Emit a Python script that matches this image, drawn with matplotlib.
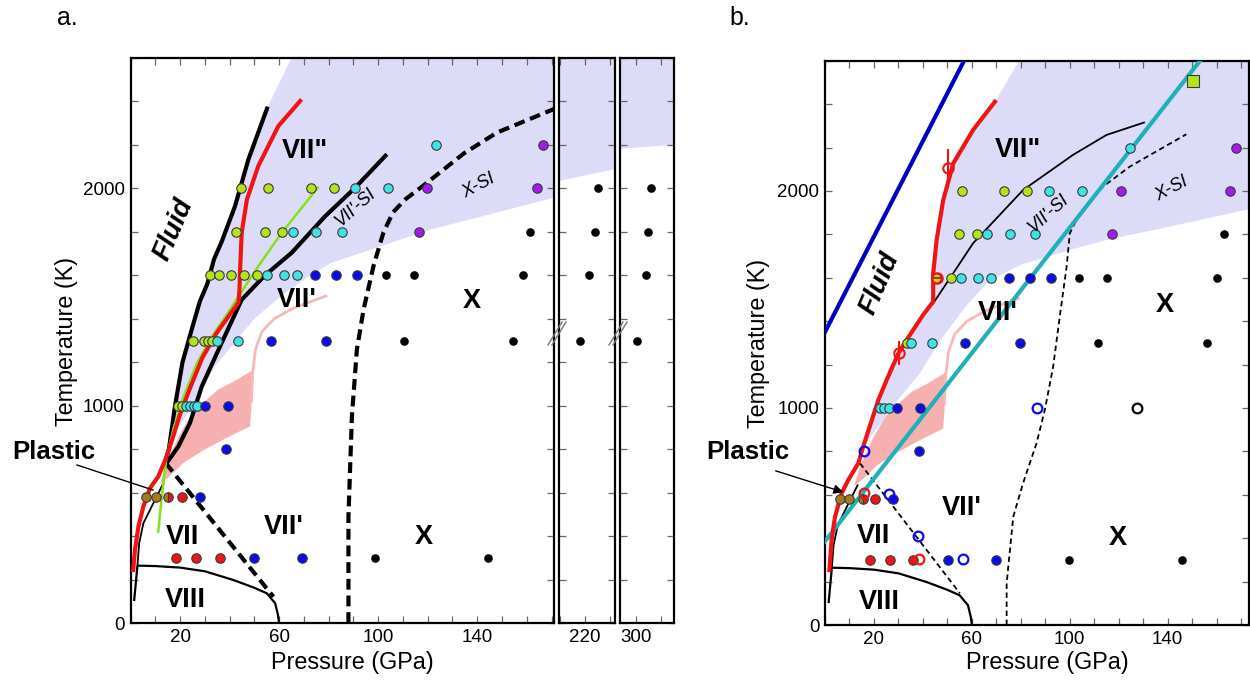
import matplotlib
matplotlib.use("Agg")
import matplotlib.pyplot as plt
from matplotlib.lines import Line2D
from matplotlib.ticker import FixedLocator, FuncFormatter
import numpy as np

plt.rcParams['font.family'] = ['Liberation Sans', 'DejaVu Sans']

# ================= DATA : panel a =================
a_green_P = [19.3, 20.8, 25.2, 29.7, 31.4, 32.8, 32.1, 35.6, 40.7, 45.9, 51.1, 42.4, 54.5, 61.3, 44.6, 55.4, 72.7, 82.1]
a_green_T = [1000, 1000, 1300, 1300, 1300, 1300, 1600, 1600, 1600, 1600, 1600, 1800, 1800, 1800, 2000, 2000, 2000, 2000]
a_cyan_P = [22.5, 24.0, 25.5, 27.0, 34.9, 43.5, 55.2, 62.0, 67.4, 65.5, 74.8, 85.3, 90.7, 104.0, 123.3]
a_cyan_T = [1000, 1000, 1000, 1000, 1300, 1300, 1600, 1600, 1600, 1800, 1800, 1800, 2000, 2000, 2200]
a_blue_P = [49.9, 69.3, 28.1, 38.5, 30.2, 39.5, 56.6, 79.0, 74.5, 83.0, 91.6]
a_blue_T = [300, 300, 580, 800, 1000, 1000, 1300, 1300, 1600, 1600, 1600]
a_purple_P = [116.4, 119.8, 164.1, 166.4]
a_purple_T = [1800, 2000, 2000, 2200]
a_black_P = [98.9, 144.4, 110.5, 154.5, 217.9, 300.5, 103.1, 114.4, 158.6, 221.6, 304.0, 161.5, 223.8, 305.0, 225.4, 306.0]
a_black_T = [300, 300, 1300, 1300, 1300, 1300, 1600, 1600, 1600, 1600, 1600, 1800, 1800, 1800, 2000, 2000]
a_red_P = [18.3, 26.3, 36.0, 20.8]
a_red_T = [300, 300, 300, 580]
a_brown_P = [6.3, 10.2]
a_brown_T = [580, 580]
a_half_P = [15.3]
a_half_T = [580]

# lines, panel a
a_melt_P = [13.9, 15.5, 18.0, 21.0, 24.7, 28.0, 31.0, 33.7, 37.0, 42.2, 47.6, 55.4]
a_melt_T = [737, 800, 1000, 1200, 1350, 1480, 1560, 1673, 1760, 1918, 2133, 2376]
a_bound_P = [14.6, 19.3, 24.0, 28.8, 36.8, 44.9, 54.3, 65.1, 78.6, 90.7, 103.5]
a_bound_T = [736, 812, 920, 1089, 1289, 1488, 1600, 1704, 1872, 2003, 2157]
a_red_line_P = [1.1, 1.8, 3.2, 5.2, 7.9, 11.2, 14.6, 17.0, 20.0, 24.0, 29.0, 34.5, 39.5, 43.6, 44.0, 44.2, 44.9, 47.0, 51.6, 59.7, 68.5]
a_red_line_T = [244, 336, 444, 536, 621, 674, 766, 850, 960, 1080, 1220, 1330, 1410, 1475, 1534, 1611, 1796, 1949, 2103, 2287, 2402]
a_green_line_P = [11.2, 12.6, 14.5, 17.5, 21.0, 27.0, 33.0, 39.5, 51.6, 61.1, 75.6]
a_green_line_T = [421, 580, 760, 900, 1030, 1200, 1320, 1430, 1642, 1796, 2003]
a_dash_VII_P = [14.2, 57.7]
a_dash_VII_T = [736, 121]
a_dash_X_P = [88.0, 88.0, 89.4, 91.4, 94.1, 98.1, 102.1, 106.0, 111.0, 118.5, 134.5, 148.0, 172.0]
a_dash_X_T = [0, 490, 951, 1258, 1442, 1642, 1796, 1890, 1950, 2015, 2160, 2257, 2370]
a_lav_low_P = [14.0, 18.0, 26.7, 34.0, 42.0, 50.0, 62.0, 72.0, 80.6, 100.0, 121.0, 171.0, 176.0]
a_lav_low_T = [760, 874, 1028, 1180, 1290, 1400, 1515, 1595, 1655, 1730, 1810, 1957, 1972]
a_lav_top_P = [67.2]
a_lav_top_T = [2650]
a2_lav_P = [209.0, 233.0]
a2_lav_T = [2036, 2094]
a3_lav_P = [293.0, 316.0]
a3_lav_T = [2184, 2204]

# shared lines (both panels)
viii_P = [1.5, 2.8, 10.0, 20.0, 30.0, 41.5, 50.0, 55.0, 58.4, 59.5, 60.0]
viii_T = [106, 264, 262, 255, 238, 198, 162, 137, 91, 40, 0]
plastic_P = [2.8, 3.5, 5.2, 9.2, 13.3]
plastic_T = [264, 367, 459, 551, 644]
pink_P = [11.9, 14.6, 20.0, 24.7, 30.0, 35.5, 41.5, 49.8, 48.3, 42.0, 34.8, 28.0, 21.3, 15.5]
pink_T = [640, 740, 870, 960, 1020, 1075, 1110, 1166, 905, 870, 828, 785, 736, 672]
pink_line_P = [48.8, 49.3, 50.5, 53.0, 58.0, 66.0, 79.0]
pink_line_T = [1020, 1150, 1260, 1340, 1400, 1450, 1505]

# ================= DATA : panel b =================
b_green_P = [33.6, 45.5, 51.5, 54.7, 61.9, 55.8, 73.2, 82.7]
b_green_T = [1300, 1600, 1600, 1800, 1800, 2000, 2000, 2000]
b_cyan_P = [22.6, 24.1, 26.1, 35.1, 43.7, 55.4, 62.3, 67.8, 66.0, 75.5, 85.8, 91.4, 104.9, 124.5]
b_cyan_T = [1000, 1000, 1000, 1300, 1300, 1600, 1600, 1600, 1800, 1800, 1800, 2000, 2000, 2200]
b_blue_P = [50.2, 69.8, 27.9, 38.4, 29.5, 38.9, 57.0, 79.6, 75.2, 83.7, 92.2]
b_blue_T = [300, 300, 580, 803, 1000, 1000, 1300, 1300, 1600, 1600, 1600]
b_purple_P = [117.4, 120.9, 165.3, 168.0]
b_purple_T = [1800, 2000, 2000, 2200]
b_black_P = [99.7, 145.8, 111.6, 156.2, 103.6, 115.1, 160.0, 163.1]
b_black_T = [300, 300, 1300, 1300, 1600, 1600, 1600, 1800]
b_red_P = [18.4, 26.4, 36.1, 20.4]
b_red_T = [300, 300, 300, 580]
b_brown_P = [6.1, 9.9]
b_brown_T = [580, 580]
b_half_P = [15.4]
b_half_T = [580]
b_open_red_P = [16.1, 38.4]
b_open_red_T = [610, 304]
b_open_blue_P = [16.1, 26.3, 38.1, 56.3, 86.8]
b_open_blue_T = [803, 604, 410, 304, 1000]
b_open_black_P = [127.5]
b_open_black_T = [1000]
b_err_P = [45.6, 50.3, 30.3]
b_err_T = [1600, 2104, 1255]
b_err_dP = [2.4, 0, 0]
b_err_dT = [0, 90, 55]
b_square_P = [150.3]
b_square_T = [2507]

b_red_line_P = [1.8, 2.7, 4.1, 6.8, 9.5, 13.6, 15.6, 21.8, 25.2, 29.9, 33.3, 40.1, 44.2, 44.2, 45.6, 48.3, 52.4, 60.5, 69.4]
b_red_line_T = [253, 392, 499, 607, 668, 745, 822, 1037, 1129, 1250, 1313, 1429, 1490, 1621, 1774, 1958, 2127, 2281, 2411]
b_thin_P = [44.2, 60.5, 80.9, 101.3, 115.0, 130.3]
b_thin_T = [1482, 1759, 2004, 2166, 2258, 2315]
b_dash_VII_P = [14.3, 55.1]
b_dash_VII_T = [745, 146]
b_dash_X_P = [74.2, 74.2, 76.9, 80.9, 86.4, 89.8, 93.2, 95.9, 98.7, 100.0, 104.1, 113.6, 124.5, 147.6]
b_dash_X_T = [0, 192, 499, 653, 837, 991, 1190, 1421, 1651, 1805, 1897, 2020, 2112, 2261]
b_blue_line_P = [0.0, 56.8]
b_blue_line_T = [1350, 2600]
b_teal_line_P = [0.0, 153.2]
b_teal_line_T = [386, 2600]
b_lav_top_P = [82.0]
b_lav_top_T = [2650]
b_lav_low_P = [15.6, 21.8, 30.0, 38.8, 47.0, 58.0, 67.0, 80.0, 100.0, 115.0, 141.0, 173.0, 178.0]
b_lav_low_T = [822, 914, 1040, 1160, 1310, 1475, 1585, 1660, 1728, 1774, 1836, 1915, 1928]

x_ticks_main = list(range(0, 180, 10))
x_labels_main = [20, 60, 100, 140]
x_ticks_a2 = [210, 220, 230]
x_labels_a2 = [220]
x_ticks_a3 = [300, 310]
x_labels_a3 = [300]
y_ticks = list(range(0, 2601, 200))
y_labels = [0, 1000, 2000]

# ================= colours =================
C_GREEN = '#b2e41c'
C_CYAN = '#3fe3e6'
C_BLUE = '#0a0af0'
C_PURPLE = '#a31be8'
C_RED = '#f01414'
C_BROWN = '#a8781c'
C_LAV = '#dcdcf8'
C_PINK = '#f7b0b0'
C_PINKLINE = '#f6b8b8'
C_GLINE = '#86e01c'
C_TEAL = '#1fb0ba'
C_NAVY = '#0000c4'
EDGE = '#3a3a3a'

W, H = 1250, 684
fig = plt.figure(figsize=(W / 100, H / 100), dpi=100)


def px_axes(l, t, r, b):
    return fig.add_axes([l / W, 1 - b / H, (r - l) / W, (b - t) / H])


axA = px_axes(130.5, 58, 554, 623)
axA2 = px_axes(559, 58, 615, 623)
axA3 = px_axes(620, 58, 674, 623)
axB = px_axes(825, 60.7, 1248.5, 625)


def style(ax, xlim, xt, xl, ylab):
    ax.set_xlim(*xlim)
    ax.set_ylim(0, 2600)
    ax.xaxis.set_major_locator(FixedLocator(xt))
    ax.xaxis.set_major_formatter(FuncFormatter(lambda v, p: f"{int(round(v))}" if int(round(v)) in xl else ""))
    ax.yaxis.set_major_locator(FixedLocator(y_ticks))
    ax.yaxis.set_major_formatter(FuncFormatter(lambda v, p: f"{int(round(v))}" if (ylab and int(round(v)) in y_labels) else ""))
    ax.tick_params(direction='in', top=True, right=True, length=5, width=0.9, color='#666666',
                   labelsize=13.5, pad=4, labelcolor='black')
    for s in ax.spines.values():
        s.set_linewidth(1.6)


style(axA, (0, 171), x_ticks_main, x_labels_main, True)
style(axA2, (209.4, 232.1), x_ticks_a2, x_labels_a2, False)
style(axA3, (293.5, 315.4), x_ticks_a3, x_labels_a3, False)
style(axB, (0, 173), x_ticks_main, x_labels_main, True)


def dots(ax, P, T, color, edge=True, ms=6.8):
    ax.plot(P, T, 'o', ls='none', mfc=color, mec=EDGE if edge else color,
            mew=0.8 if edge else 0.0, ms=ms, zorder=8)


def opens(ax, P, T, color):
    ax.plot(P, T, 'o', ls='none', mfc='none', mec=color, mew=1.6, ms=7.0, zorder=8)


# ---------------- panel a ----------------
lavA_P = [a_lav_top_P[0]] + a_melt_P[::-1] + a_lav_low_P + [a_lav_low_P[-1]]
lavA_T = [a_lav_top_T[0]] + a_melt_T[::-1] + a_lav_low_T + [a_lav_top_T[0]]
axA.fill(lavA_P, lavA_T, color=C_LAV, lw=0, zorder=1)
axA2.fill_between(a2_lav_P, a2_lav_T, [2700, 2700], color=C_LAV, lw=0, zorder=1)
axA3.fill_between(a3_lav_P, a3_lav_T, [2700, 2700], color=C_LAV, lw=0, zorder=1)

for ax in (axA, axB):
    ax.fill(pink_P, pink_T, color=C_PINK, lw=0, zorder=2)
    ax.plot(pink_line_P, pink_line_T, color=C_PINKLINE, lw=2.0, zorder=2)

axA.plot(viii_P, viii_T, color='black', lw=1.6, zorder=4)
axA.plot(plastic_P, plastic_T, color='black', lw=1.3, zorder=4)
axA.plot(a_melt_P, a_melt_T, color='black', lw=3.0, zorder=4, solid_capstyle='butt')
axA.plot(a_bound_P, a_bound_T, color='black', lw=3.0, zorder=4, solid_capstyle='butt')
axA.plot(a_green_line_P, a_green_line_T, color=C_GLINE, lw=1.8, zorder=5)
axA.plot(a_red_line_P, a_red_line_T, color=C_RED, lw=3.0, zorder=5)
axA.plot(a_dash_VII_P, a_dash_VII_T, color='black', lw=3.0, dashes=(2.6, 1.4), zorder=4)
axA.plot(a_dash_X_P, a_dash_X_T, color='black', lw=3.0, dashes=(2.6, 1.4), zorder=4)

for ax in (axA, axA2, axA3):
    dots(ax, a_black_P, a_black_T, 'black', edge=False, ms=6.2)
dots(axA, a_green_P, a_green_T, C_GREEN)
dots(axA, a_cyan_P, a_cyan_T, C_CYAN)
dots(axA, a_blue_P, a_blue_T, C_BLUE)
dots(axA, a_purple_P, a_purple_T, C_PURPLE)
dots(axA, a_red_P, a_red_T, C_RED)
dots(axA, a_brown_P, a_brown_T, C_BROWN)
axA.plot(a_half_P, a_half_T, 'o', ls='none', fillstyle='left', mfc=C_BROWN, markerfacecoloralt=C_RED,
         mec=EDGE, mew=0.8, ms=6.8, zorder=8)

bold = dict(fontweight='bold', fontsize=19.5, ha='center', va='center', zorder=9)
axA.text(17.3, 1811, 'Fluid', rotation=67, fontstyle='italic', **bold)
axA.text(70.5, 2172, 'VII"', **bold)
axA.text(67.0, 1488, "VII'", **bold)
axA.text(61.7, 444, "VII'", **bold)
axA.text(21.0, 398, 'VII', **bold)
axA.text(22.0, 106, 'VIII', **bold)
axA.text(118.3, 398, 'X', **bold)
axA.text(137.9, 1481, 'X', **bold)
axA.text(90.7, 1911, "VII'-SI", rotation=42, fontstyle='italic', fontsize=13, ha='center', va='center', zorder=9)
axA.text(140.5, 2011, 'X-SI', rotation=28, fontstyle='italic', fontsize=13, ha='center', va='center', zorder=9)

# ---------------- panel b ----------------
lavB_P = [b_lav_top_P[0]] + b_red_line_P[::-1][:13] + b_lav_low_P + [b_lav_low_P[-1]]
lavB_T = [b_lav_top_T[0]] + b_red_line_T[::-1][:13] + b_lav_low_T + [b_lav_top_T[0]]
axB.fill(lavB_P, lavB_T, color=C_LAV, lw=0, zorder=1)

axB.plot(viii_P, viii_T, color='black', lw=1.6, zorder=4)
axB.plot(plastic_P, plastic_T, color='black', lw=1.3, zorder=4)
axB.plot(b_thin_P, b_thin_T, color='black', lw=1.3, zorder=4)
axB.plot(b_dash_VII_P, b_dash_VII_T, color='black', lw=1.3, dashes=(3, 2), zorder=4)
axB.plot(b_dash_X_P, b_dash_X_T, color='black', lw=1.3, dashes=(3, 2), zorder=4)
axB.plot(b_blue_line_P, b_blue_line_T, color=C_NAVY, lw=3.0, zorder=5)
axB.plot(b_teal_line_P, b_teal_line_T, color=C_TEAL, lw=3.0, zorder=5)
axB.plot(b_red_line_P, b_red_line_T, color=C_RED, lw=3.0, zorder=6)

dots(axB, b_black_P, b_black_T, 'black', edge=False, ms=6.2)
dots(axB, b_green_P, b_green_T, C_GREEN)
dots(axB, b_cyan_P, b_cyan_T, C_CYAN)
dots(axB, b_blue_P, b_blue_T, C_BLUE)
dots(axB, b_purple_P, b_purple_T, C_PURPLE)
dots(axB, b_red_P, b_red_T, C_RED)
dots(axB, b_brown_P, b_brown_T, C_BROWN)
axB.plot(b_half_P, b_half_T, 'o', ls='none', fillstyle='left', mfc=C_BROWN, markerfacecoloralt=C_RED,
         mec=EDGE, mew=0.8, ms=6.8, zorder=8)
opens(axB, b_open_red_P, b_open_red_T, C_RED)
opens(axB, b_open_blue_P, b_open_blue_T, C_BLUE)
opens(axB, b_open_black_P, b_open_black_T, 'black')
axB.errorbar(b_err_P, b_err_T, xerr=b_err_dP, yerr=b_err_dT, fmt='o', mfc='none', mec=C_RED,
             ecolor=C_RED, elinewidth=1.5, mew=1.5, ms=7.5, capsize=0, zorder=9)
axB.plot(b_square_P, b_square_T, 's', mfc=C_GREEN, mec=EDGE, mew=0.8, ms=8, zorder=9)

axB.text(22.4, 1574, 'Fluid', rotation=67, fontstyle='italic', **bold)
axB.text(78.9, 2189, 'VII"', **bold)
axB.text(70.7, 1436, "VII'", **bold)
axB.text(55.8, 538, "VII'", **bold)
axB.text(19.7, 412, 'VII', **bold)
axB.text(22.2, 108, 'VIII', **bold)
axB.text(138.8, 1475, 'X', **bold)
axB.text(119.5, 400, 'X', **bold)
axB.text(91.1, 1897, "VII'-SI", rotation=42, fontstyle='italic', fontsize=13, ha='center', va='center', zorder=9)
axB.text(141.5, 2012, 'X-SI', rotation=28, fontstyle='italic', fontsize=13, ha='center', va='center', zorder=9)

# ---------------- figure-level text ----------------
def fx(x):
    return x / W


def fy(y):
    return 1 - y / H


fig.text(fx(67), fy(18), 'a.', fontsize=18, ha='center', va='center')
fig.text(fx(740), fy(18), 'b.', fontsize=18, ha='center', va='center')
fig.text(fx(67), fy(341), 'Temperature (K)', rotation=90, fontsize=16.8, ha='center', va='center')
fig.text(fx(759), fy(343), 'Temperature (K)', rotation=90, fontsize=16.8, ha='center', va='center')
fig.text(fx(352), fy(663), 'Pressure (GPa)', fontsize=16.8, ha='center', va='center')
fig.text(fx(1047), fy(663), 'Pressure (GPa)', fontsize=16.8, ha='center', va='center')

fig.text(fx(54), fy(452), 'Plastic', fontsize=18.5, fontweight='bold', ha='center', va='center')
fig.text(fx(748), fy(452), 'Plastic', fontsize=18.5, fontweight='bold', ha='center', va='center')
fig.add_artist(Line2D([fx(77), fx(153)], [fy(465), fy(490)], color='black', lw=1.0))
fig.add_artist(matplotlib.patches.FancyArrowPatch((fx(773), fy(470)), (fx(846), fy(493)),
                                                  transform=fig.transFigure, arrowstyle='-|>',
                                                  mutation_scale=14, color='black', lw=1.0))

# axis-break marks
for x0 in (548, 609):
    for dx in (0, 4):
        fig.add_artist(Line2D([fx(x0 + dx), fx(x0 + dx + 14)], [fy(345), fy(322)], color='#777777', lw=1.0))

fig.savefig('out.png', dpi=100)
